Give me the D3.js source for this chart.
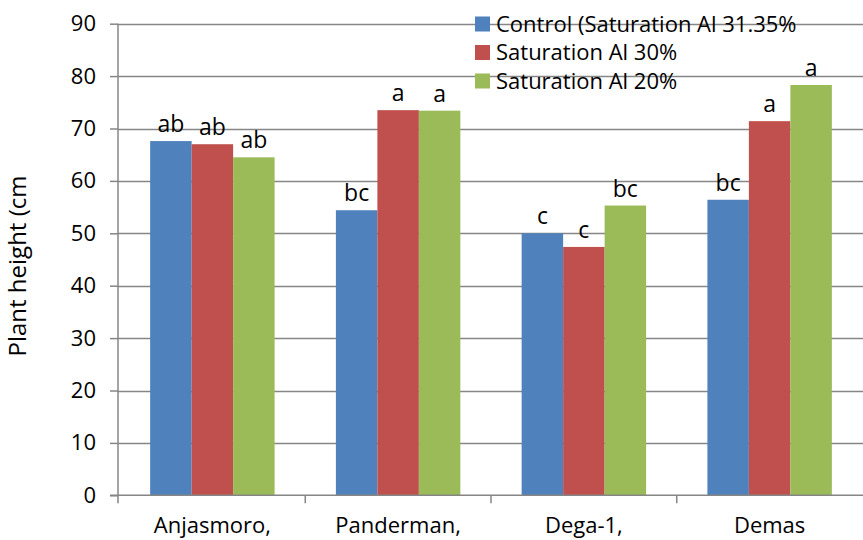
<!DOCTYPE html>
<html>
<head>
<meta charset="utf-8">
<script src="https://cdn.jsdelivr.net/npm/d3@7"></script>
<style>
  html, body { margin: 0; padding: 0; background: #fff; }
  svg text { font-family: "Open Sans", "Noto Sans", sans-serif; fill: #000; }
</style>
</head>
<body>
<svg id="chart" width="863" height="540"></svg>
<script>
// Varieties on the category axis
const varieties = ["Anjasmoro,", "Panderman,", "Dega-1,", "Demas"];
// Treatments (one bar per variety each)
const treatments = ["Control (Saturation Al 31.35%", "Saturation Al 30%", "Saturation Al 20%"];
const colors = ["#4F81BD", "#C0504D", "#9BBB59"];
// Mean plant height (cm) per treatment, in variety order
const control = [67.6, 54.4, 50.0, 56.4];
const al30 = [67.0, 73.5, 47.4, 71.4];
const al20 = [64.5, 73.4, 55.3, 78.3];
// Significance letters per treatment
const letControl = ["ab", "bc", "c", "bc"];
const letAl30 = ["ab", "a", "c", "a"];
const letAl20 = ["ab", "a", "bc", "a"];
const yTicks = [0, 10, 20, 30, 40, 50, 60, 70, 80, 90];

const values = [control, al30, al20];
const letters = [letControl, letAl30, letAl20];

const svg = d3.select("#chart");
const axisX = 118, plotLeft = 119.5, plotRight = 862.5, plotTop = 23.7, plotBottom = 495.3;

const x0 = d3.scaleBand().domain(varieties).range([plotLeft, plotRight]).padding(0);
const groupW = x0.bandwidth() * 0.67;
const x1 = d3.scaleBand().domain(d3.range(treatments.length))
  .range([(x0.bandwidth() - groupW) / 2, (x0.bandwidth() + groupW) / 2]).padding(0);
const y = d3.scaleLinear().domain([0, 90]).range([plotBottom, plotTop]);

// horizontal gridlines
svg.append("g").selectAll("line").data(yTicks.filter(t => t > 0)).join("line")
  .attr("x1", axisX).attr("x2", 863)
  .attr("y1", d => Math.round(y(d)) + 0.5).attr("y2", d => Math.round(y(d)) + 0.5)
  .attr("stroke", "#868686").attr("stroke-width", 1.3);

// bars
const rows = [];
varieties.forEach((v, i) => treatments.forEach((t, j) => rows.push({v, j, val: values[j][i], lab: letters[j][i]})));

svg.append("g").selectAll("rect").data(rows).join("rect")
  .attr("x", d => x0(d.v) + x1(d.j))
  .attr("width", x1.bandwidth())
  .attr("y", d => y(d.val))
  .attr("height", d => y(0) - y(d.val))
  .attr("fill", d => colors[d.j]);

// significance letters
svg.append("g").selectAll("text").data(rows).join("text")
  .attr("x", d => x0(d.v) + x1(d.j) + x1.bandwidth() / 2)
  .attr("y", d => y(d.val) - 9)
  .attr("text-anchor", "middle")
  .attr("font-size", 23)
  .text(d => d.lab);

// y axis
const yAxis = d3.axisLeft(y).tickValues(yTicks).tickSize(8).tickPadding(14);
const gy = svg.append("g").attr("transform", `translate(${axisX},0)`).call(yAxis);
gy.select(".domain").attr("stroke", "#868686").attr("stroke-width", 1.5).attr("d", `M0,${plotTop}V${plotBottom}`);
gy.selectAll(".tick line").attr("stroke", "#868686").attr("stroke-width", 1.5);
gy.selectAll(".tick text").attr("font-size", 22).attr("font-family", "Open Sans").attr("fill", "#000");

// x axis
const xAxis = d3.axisBottom(x0).tickSize(0).tickPadding(18);
const gx = svg.append("g").attr("transform", `translate(0,${plotBottom})`).call(xAxis);
gx.select(".domain").attr("stroke", "#868686").attr("stroke-width", 1.5).attr("d", `M${axisX - 8},0H863`);
gx.selectAll(".tick text").attr("font-size", 22).attr("font-family", "Open Sans").attr("fill", "#000").attr("dy", "0.9em");
// category separators
const seps = varieties.slice(1).map(v => x0(v));
gx.append("g").selectAll("line").data(seps).join("line")
  .attr("x1", d => d).attr("x2", d => d).attr("y1", 0).attr("y2", 8)
  .attr("stroke", "#868686").attr("stroke-width", 1.5);
gx.append("line").attr("x1", axisX).attr("x2", axisX).attr("y1", 0).attr("y2", 8)
  .attr("stroke", "#868686").attr("stroke-width", 1.5);

// y axis title
svg.append("text")
  .attr("transform", "translate(26,266) rotate(-90)")
  .attr("text-anchor", "middle")
  .attr("font-size", 24)
  .text("Plant height (cm");

// legend
const lg = svg.append("g").attr("transform", "translate(475,24)");
const li = lg.selectAll("g").data(treatments).join("g")
  .attr("transform", (d, i) => `translate(0,${i * 28.5})`);
li.append("rect").attr("x", 0).attr("y", -7.5).attr("width", 15).attr("height", 15)
  .attr("fill", (d, i) => colors[i]);
li.append("text").attr("x", 21).attr("y", 0).attr("dy", "0.36em")
  .attr("font-size", 22).text(d => d);
</script>
</body>
</html>
